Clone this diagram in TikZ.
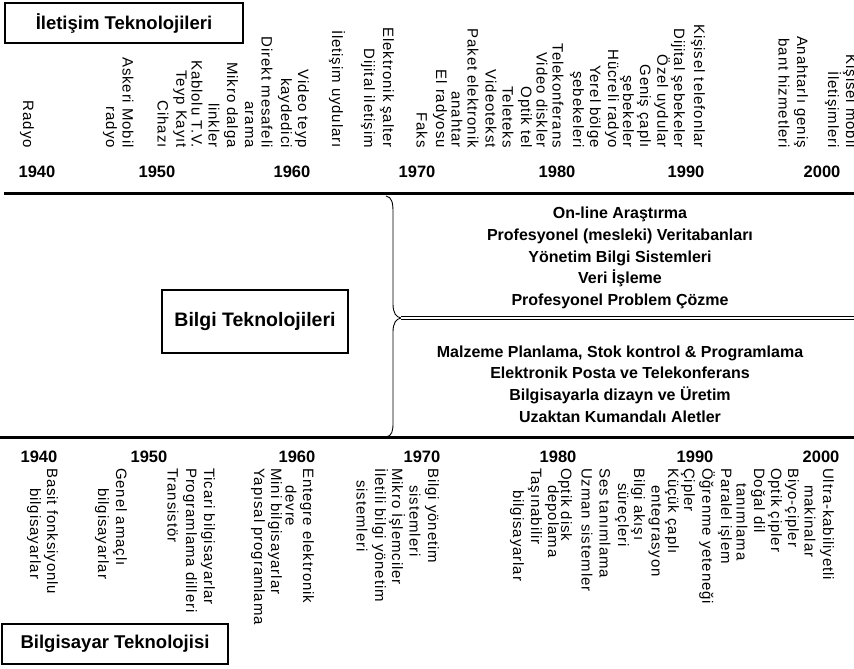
\documentclass[tikz,border=0pt]{standalone}
\usepackage{fontspec}
\setmainfont{Liberation Sans}
\newfontfamily\labfont[LetterSpace=6]{Liberation Sans}
\begin{document}
\begin{tikzpicture}[x=1pt,y=-1pt,
  titlebox/.style={draw, line width=2pt, inner sep=0pt, font=\bfseries\fontsize{18.5}{20}\selectfont},
  yr/.style={inner sep=0pt, font=\bfseries\fontsize{16.5}{18}\selectfont},
  vtop/.style={rotate=-90, anchor=east, inner sep=0pt, font=\labfont\fontsize{15}{17}\selectfont},
  vbot/.style={rotate=-90, anchor=west, inner sep=0pt, font=\labfont\fontsize{15}{17}\selectfont},
  lst/.style={align=center, inner sep=0pt, font=\bfseries\fontsize{16}{21.8}\selectfont},
  axis/.style={line width=3pt},
  bracestyle/.style={line width=0.9pt}]
\useasboundingbox (0,0) rectangle (854,669);
\fill[white] (0,0) rectangle (854,669);

% title boxes
\node[titlebox, minimum width=238pt, minimum height=40pt] (iletisim) at (124,23) {İletişim Teknolojileri};
\node[titlebox, minimum width=186pt, minimum height=63pt, font=\bfseries\fontsize{19.5}{21}\selectfont] (bilgi) at (255,321) {Bilgi Teknolojileri};
\node[titlebox, minimum width=226pt, minimum height=40pt] (bilgisayar) at (115,644) {Bilgisayar Teknolojisi};

% axes
\coordinate (ta) at (4,193); \coordinate (tb) at (854,193);
\coordinate (ba) at (0,437); \coordinate (bb) at (854,437);
\draw[axis] (ta) -- (tb);
\draw[axis] (ba) -- (bb);

% brace and double line
\coordinate (btop) at (386,196);
\coordinate (tip) at (401,318);
\coordinate (bbot) at (386,437);
\coordinate (dright) at (854,318);
\draw[bracestyle] (btop) .. controls (392,197) and (393,203) .. (393,212) -- (393,304)
  .. controls (393,313) and (396,317) .. (tip)
  .. controls (396,319) and (393,323) .. (393,332) -- (393,423)
  .. controls (393,431) and (392,436) .. (bbot);
\draw[double, line width=1pt, double distance=2pt] (tip) -- (dright);

% lists
\node[lst] (upper) at (620,258) {On-line Araştırma\\Profesyonel (mesleki) Veritabanları\\Yönetim Bilgi Sistemleri\\Veri İşleme\\Profesyonel Problem Çözme};
\node[lst] (lower) at (620,384) {Malzeme Planlama, Stok kontrol \& Programlama\\Elektronik Posta ve Telekonferans\\Bilgisayarla dizayn ve Üretim\\Uzaktan Kumandalı Aletler};

% top years
\node[yr] (ty1) at (37,172) {1940};
\node[yr] (ty2) at (157,172) {1950};
\node[yr] (ty3) at (292,172) {1960};
\node[yr] (ty4) at (417,172) {1970};
\node[yr] (ty5) at (557,172) {1980};
\node[yr] (ty6) at (686,172) {1990};
\node[yr] (ty7) at (822,172) {2000};

% bottom years
\node[yr] (by1) at (39,457) {1940};
\node[yr] (by2) at (149,457) {1950};
\node[yr] (by3) at (297,457) {1960};
\node[yr] (by4) at (422,457) {1970};
\node[yr] (by5) at (558,457) {1980};
\node[yr] (by6) at (695,457) {1990};
\node[yr] (by7) at (821,457) {2000};

% top labels (communication technologies)
\node[vtop] (t1) at (27,148) {Radyo};
\node[vtop] (t2) at (128,148) {Askeri Mobil};
\node[vtop] (t3) at (110,148) {radyo};
\node[vtop] (t4) at (180,148) {Teyp Kayıt};
\node[vtop] (t5) at (163,148) {Cihazı};
\node[vtop] (t6) at (197,148) {Kablolu T.V.};
\node[vtop] (t7) at (231,148) {Mikro dalga};
\node[vtop] (t8) at (214,148) {linkler};
\node[vtop] (t9) at (267,148) {Direkt mesafeli};
\node[vtop] (t10) at (249,148) {arama};
\node[vtop] (t11) at (302,148) {Video teyp};
\node[vtop] (t12) at (285,148) {kaydedici};
\node[vtop] (t13) at (337,148) {İletişim uyduları};
\node[vtop] (t14) at (387,148) {Elektronik şalter};
\node[vtop] (t15) at (368,148) {Dijital iletişim};
\node[vtop] (t16) at (440,148) {El radyosu};
\node[vtop] (t17) at (422,148) {Faks};
\node[vtop] (t18) at (473,148) {Paket elektronik};
\node[vtop] (t19) at (457,148) {anahtar};
\node[vtop] (t20) at (491,148) {Videotekst};
\node[vtop] (t21) at (508,148) {Teleteks};
\node[vtop] (t22) at (525,148) {Optik tel};
\node[vtop] (t23) at (542,148) {Video diskler};
\node[vtop] (t24) at (558,148) {Telekonferans};
\node[vtop] (t25) at (594,148) {Yerel bölge};
\node[vtop] (t26) at (577,148) {şebekeleri};
\node[vtop] (t27) at (612,148) {Hücreli radyo};
\node[vtop] (t28) at (644,148) {Geniş çaplı};
\node[vtop] (t29) at (627,148) {şebekeler};
\node[vtop] (t30) at (662,148) {Özel uydular};
\node[vtop] (t31) at (678,148) {Dijital şebekeler};
\node[vtop] (t32) at (698,148) {Kişisel telefonlar};
\node[vtop] (t33) at (801,148) {Anahtarlı geniş};
\node[vtop] (t34) at (784,148) {bant hizmetleri};
\node[vtop] (t35) at (850,148) {Kişisel mobil};
\node[vtop] (t36) at (833,148) {İletişimleri};

% bottom labels (computer technology)
\node[vbot] (b1) at (51,468) {Basit fonksiyonlu};
\node[vbot] (b2) at (34,488) {bilgisayarlar};
\node[vbot] (b3) at (120,468) {Genel amaçlı};
\node[vbot] (b4) at (102,488) {bilgisayarlar};
\node[vbot] (b5) at (208,468) {Ticari bilgisayarlar};
\node[vbot] (b6) at (190,468) {Programlama dilleri};
\node[vbot] (b7) at (173,468) {Transistör};
\node[vbot] (b8) at (307,468) {Entegre elektronik};
\node[vbot] (b9) at (291,485) {devre};
\node[vbot] (b10) at (275,468) {Mini bilgisayarlar};
\node[vbot] (b11) at (258,468) {Yapısal programlama};
\node[vbot] (b12) at (432,468) {Bilgi yönetim};
\node[vbot] (b13) at (415,485) {sistemleri};
\node[vbot] (b14) at (397,468) {Mikro İşlemciler};
\node[vbot] (b15) at (380,468) {İletili bilgi yönetim};
\node[vbot] (b16) at (362,480) {sistemleri};
\node[vbot] (b17) at (565,468) {Optik disk};
\node[vbot] (b18) at (552,485) {depolama};
\node[vbot] (b19) at (535,468) {Taşınabilir};
\node[vbot] (b20) at (517,490) {bilgisayarlar};
\node[vbot] (b21) at (587,468) {Uzman sistemler};
\node[vbot] (b22) at (605,468) {Ses tanımlama};
\node[vbot] (b23) at (638,468) {Bilgi akışı};
\node[vbot] (b24) at (622,483) {süreçleri};
\node[vbot] (b25) at (672,468) {Küçük çaplı};
\node[vbot] (b26) at (655,485) {entegrasyon};
\node[vbot] (b27) at (688,468) {Çipler};
\node[vbot] (b28) at (707,468) {Öğrenme yeteneği};
\node[vbot] (b29) at (725,468) {Paralel işlem};
\node[vbot] (b30) at (758,468) {Doğal dil};
\node[vbot] (b31) at (742,483) {tanımlama};
\node[vbot] (b32) at (775,468) {Optik çipler};
\node[vbot] (b33) at (792,468) {Biyo-çipler};
\node[vbot] (b34) at (827,468) {Ultra-kabiliyetli};
\node[vbot] (b35) at (810,485) {makinalar};
\end{tikzpicture}
\end{document}
